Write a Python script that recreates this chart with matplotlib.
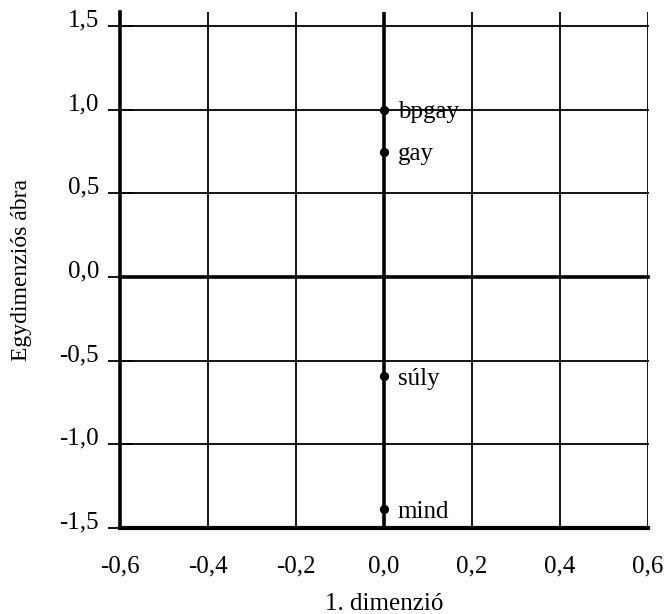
import matplotlib
matplotlib.use('Agg')
import matplotlib.pyplot as plt
import matplotlib.transforms as mtransforms

plt.rcParams['font.family'] = ['Liberation Serif', 'DejaVu Serif']

# ADATOK
cimkek = ['bpgay', 'gay', 'súly', 'mind']
dim1 = [0.0, 0.0, 0.0, 0.0]
ertekek = [1.0, 0.75, -0.59, -1.385]

x_ticks = [-0.6, -0.4, -0.2, 0.0, 0.2, 0.4, 0.6]
y_ticks = [-1.5, -1.0, -0.5, 0.0, 0.5, 1.0, 1.5]

fig = plt.figure(figsize=(6.7, 6.14), dpi=100)
ax = fig.add_axes([120 / 670, 1 - 528 / 614, 528 / 670, 516 / 614])

ax.set_xlim(-0.6, 0.6)
ax.set_ylim(-1.5, 1.584)

# racsvonalak
for xv in x_ticks:
    lw = 2.6 if xv == 0 else 1.3
    ax.axvline(xv, color='black', lw=lw, zorder=1)
for yv in y_ticks:
    lw = 2.6 if yv == 0 else 1.3
    ax.plot([-0.6, 0.6], [yv, yv], color='black', lw=lw, zorder=1, clip_on=False)

ax.scatter(dim1, ertekek, s=32, color='black', zorder=3)
for x, y, t in zip(dim1, ertekek, cimkek):
    ax.annotate(t, (x, y), xytext=(10, -2), textcoords='offset points',
                va='center', ha='left', fontsize=18)

for s in ['top', 'right']:
    ax.spines[s].set_visible(False)
ax.spines['left'].set_linewidth(2.6)
ax.spines['bottom'].set_linewidth(3)

ax.set_xticks(x_ticks)
ax.set_xticklabels([f'{v:.1f}'.replace('.', ',') for v in x_ticks], fontsize=18)
ax.set_yticks(y_ticks)
ax.set_yticklabels([f'{v:.1f}'.replace('.', ',') for v in y_ticks], fontsize=18)
ax.tick_params(axis='x', length=0, pad=20)
ax.tick_params(axis='y', direction='inout', length=18, width=1.3, pad=6)

# y feliratok kicsit a vonal folott
eltolas = mtransforms.ScaledTranslation(0, 8 / 100, fig.dpi_scale_trans)
for lbl in ax.get_yticklabels():
    lbl.set_transform(lbl.get_transform() + eltolas)

ax.set_xlabel('1. dimenzió', fontsize=18, labelpad=11)
ax.set_ylabel('Egydimenziós ábra', fontsize=17, labelpad=20)

plt.savefig('out.png', dpi=100)
